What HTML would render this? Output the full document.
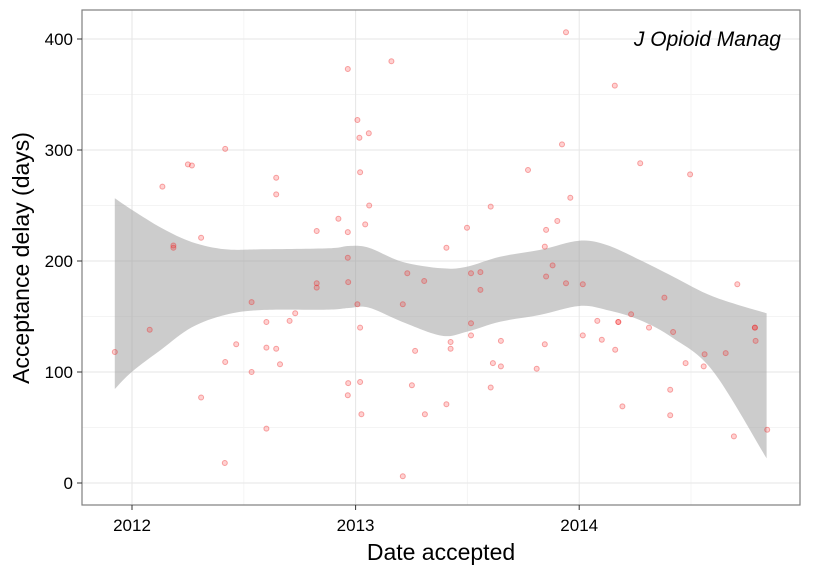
<!DOCTYPE html>
<html><head><meta charset="utf-8">
<style>
body{margin:0;background:#fff;}
svg{display:block;font-family:"Liberation Sans",sans-serif;}
</style></head>
<body>
<svg id="chart" width="825" height="570" viewBox="0 0 825 570" xmlns="http://www.w3.org/2000/svg">
<rect x="0" y="0" width="825" height="570" fill="#fff"/>
<g id="grid"></g>
<path id="ribbon" fill="#999" fill-opacity="0.5" stroke="none"/>
<g id="points"></g>
<rect x="82" y="10" width="718" height="495" fill="none" stroke="#7f7f7f" stroke-width="1.2"/>
<g id="axes"></g>
<text x="781" y="46" text-anchor="end" font-size="21" font-style="italic" fill="#000">J Opioid Manag</text>
<text x="441" y="560" text-anchor="middle" font-size="23" fill="#000">Date accepted</text>
<text transform="translate(29,258) rotate(-90)" text-anchor="middle" font-size="23" fill="#000">Acceptance delay (days)</text>
</svg>
<script>
const dates=[2011.923,2012.079,2012.136,2012.185,2012.185,2012.250,2012.268,2012.309,2012.309,2012.417,2012.417,2012.415,2012.466,2012.535,2012.535,2012.601,2012.601,2012.601,2012.645,2012.645,2012.645,2012.662,2012.705,2012.730,2012.826,2012.826,2012.826,2012.923,2012.965,2012.965,2012.965,2012.967,2012.967,2012.965,2013.008,2013.017,2013.020,2013.008,2013.020,2013.020,2013.026,2013.059,2013.061,2013.043,2013.160,2013.211,2013.231,2013.252,2013.266,2013.211,2013.307,2013.310,2013.406,2013.406,2013.425,2013.425,2013.498,2013.516,2013.516,2013.516,2013.558,2013.558,2013.604,2013.604,2013.614,2013.650,2013.650,2013.771,2013.810,2013.846,2013.852,2013.852,2013.846,2013.881,2013.902,2013.923,2013.941,2013.941,2013.960,2014.016,2014.016,2014.081,2014.101,2014.159,2014.161,2014.175,2014.175,2014.193,2014.232,2014.273,2014.312,2014.381,2014.407,2014.407,2014.420,2014.476,2014.496,2014.557,2014.561,2014.655,2014.692,2014.707,2014.786,2014.786,2014.789,2014.841];
const delays=[118,138,267,214,212,287,286,221,77,301,109,18,125,163,100,145,122,49,275,260,121,107,146,153,227,180,176,238,373,226,203,181,90,79,327,311,280,161,140,91,62,315,250,233,380,161,189,88,119,6,182,62,212,71,127,121,230,189,144,133,190,174,249,86,108,128,105,282,103,213,228,186,125,196,236,305,406,180,257,179,133,146,129,358,120,145,145,69,152,288,140,167,84,61,136,108,278,105,116,117,42,179,140,140,128,48];
const bandDates=[2011.923,2012.0,2012.134,2012.268,2012.417,2012.581,2012.880,2012.969,2013.059,2013.207,2013.386,2013.497,2013.646,2013.825,2014.0,2014.123,2014.272,2014.421,2014.600,2014.838];
const bandUpper=[256.5,246,229.5,217,210.5,210.5,211.4,213.5,212,199.4,193.4,194.9,203.9,210,218.3,214.4,200.9,185.9,167.9,152.9];
const bandLower=[84.7,100.3,120.7,140.3,151.4,155.9,156.2,157.7,158,145.3,132.7,136.3,145.3,151.4,159.5,155.9,146.8,130.4,100.3,22.2];
const xTicks=[2012,2013,2014];
const xTickLabels=["2012","2013","2014"];
const yTicks=[0,100,200,300,400];
const yTickLabels=["0","100","200","300","400"];

const NS="http://www.w3.org/2000/svg";
function X(v){return 132+(v-2012)*223.6;}
function Y(v){return 483-v*1.11;}
function mk(tag,attrs,parent){const e=document.createElementNS(NS,tag);for(const k in attrs)e.setAttribute(k,attrs[k]);parent.appendChild(e);return e;}

const grid=document.getElementById('grid');
for(let v=50;v<=450;v+=100){const y=Y(v);if(y<10)continue;
 const l=mk('line',{x1:82,x2:800,y1:y,y2:y,stroke:'#f4f4f4','stroke-width':1},grid);
 
 }
[2011.5,2012.5,2013.5,2014.5].forEach(v=>{const x=X(v);if(x<82)return;
 const l=mk('line',{x1:x,x2:x,y1:10,y2:505,stroke:'#f4f4f4','stroke-width':1},grid);
 
 });
yTicks.forEach(v=>{const y=Y(v);
 const l=mk('line',{x1:82,x2:800,y1:y,y2:y,stroke:'#e6e6e6','stroke-width':1},grid);
 
 });
xTicks.forEach(v=>{const x=X(v);
 const l=mk('line',{x1:x,x2:x,y1:10,y2:505,stroke:'#e6e6e6','stroke-width':1},grid);
 
 });

function smooth(p,start){
 let s=start?'M'+p[0][0].toFixed(1)+','+p[0][1].toFixed(1):'L'+p[0][0].toFixed(1)+','+p[0][1].toFixed(1);
 for(let i=0;i<p.length-1;i++){
  const p0=p[Math.max(0,i-1)],p1=p[i],p2=p[i+1],p3=p[Math.min(p.length-1,i+2)];
  const c1x=p1[0]+(p2[0]-p0[0])/6,c1y=p1[1]+(p2[1]-p0[1])/6;
  const c2x=p2[0]-(p3[0]-p1[0])/6,c2y=p2[1]-(p3[1]-p1[1])/6;
  s+='C'+c1x.toFixed(1)+','+c1y.toFixed(1)+' '+c2x.toFixed(1)+','+c2y.toFixed(1)+' '+p2[0].toFixed(1)+','+p2[1].toFixed(1);
 }
 return s;
}
const up=bandDates.map((t,i)=>[X(t),Y(bandUpper[i])]);
const lo=bandDates.map((t,i)=>[X(t),Y(bandLower[i])]).reverse();
document.getElementById('ribbon').setAttribute('d',smooth(up,true)+smooth(lo,false)+'Z');

const pts=document.getElementById('points');
dates.forEach((t,i)=>{
 const c=mk('circle',{cx:X(t).toFixed(1),cy:Y(delays[i]).toFixed(1),r:2.5,fill:'rgba(255,0,0,0.18)',stroke:'rgba(235,40,40,0.4)','stroke-width':1},pts);
 
 
});

const axes=document.getElementById('axes');
yTicks.forEach((v,i)=>{const y=Y(v);
 const tk=mk('line',{x1:77,x2:82,y1:y,y2:y,stroke:'#333','stroke-width':1},axes);
 
 
 const t=mk('text',{x:73,y:y+6,'text-anchor':'end','font-size':17,fill:'#000'},axes);
 t.textContent=yTickLabels[i];
 
 });
xTicks.forEach((v,i)=>{const x=X(v);
 const tk=mk('line',{x1:x,x2:x,y1:505,y2:510,stroke:'#333','stroke-width':1},axes);
 
 
 const t=mk('text',{x:x,y:531,'text-anchor':'middle','font-size':17,fill:'#000'},axes);
 t.textContent=xTickLabels[i];
 
 });
</script>
</body></html>
